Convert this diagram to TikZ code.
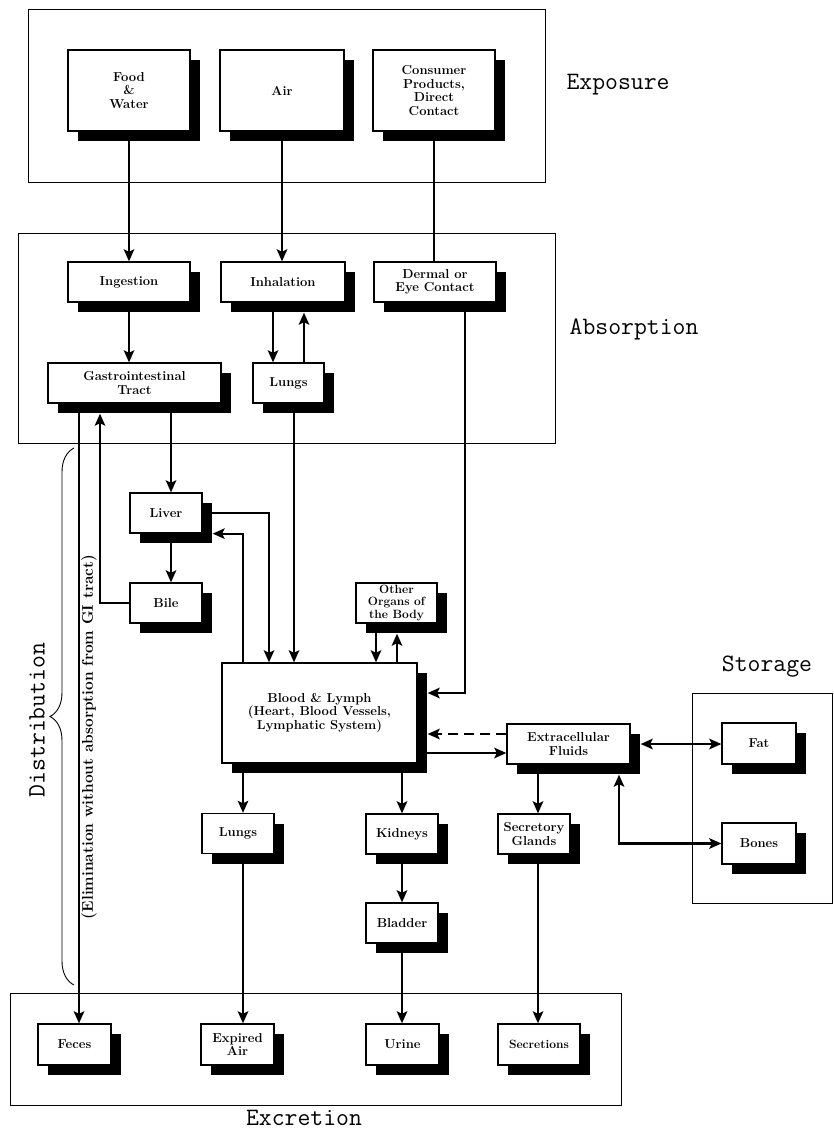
\documentclass[tikz,border=0pt]{standalone}
\usepackage{fontspec}
\usetikzlibrary{arrows.meta,shadows,decorations.pathreplacing,calc}
\begin{document}
\begin{tikzpicture}[x=1pt,y=-1pt]
\tikzset{
  box/.style={draw, line width=1.3pt, fill=white, align=center, inner sep=1pt,
    font=\bfseries\fontsize{13}{13.5}\selectfont,
    drop shadow={shadow xshift=10pt, shadow yshift=-10pt, opacity=1, fill=black}},
  grp/.style={draw, line width=1pt},
  ln/.style={line width=2.1pt},
  arr/.style={line width=2.1pt, -{Stealth[length=12pt,width=10.5pt,inset=2.5pt]}},
  darr/.style={line width=2.1pt, {Stealth[length=12pt,width=10.5pt,inset=2.5pt]}-{Stealth[length=12pt,width=10.5pt,inset=2.5pt]}},
  arrs/.style={arr, shorten >=10pt},
  lbl/.style={font=\ttfamily\fontsize{25}{27}\selectfont, inner sep=0pt},
}
\useasboundingbox[fill=white] (0,0) rectangle (834,1132);

% group frames
\draw[grp] (28,10) rectangle (545,182);
\draw[grp] (18,233) rectangle (555,443);
\draw[grp] (692,693) rectangle (832,903);
\draw[grp] (10,993) rectangle (621,1105);

% group labels
\node[lbl] (lexp) at (618,85) {Exposure};
\node[lbl] (labs) at (634,329) {Absorption};
\node[lbl] (lsto) at (767,667) {Storage};
\node[lbl, anchor=base] (lexc) at (304,1125) {Excretion};
\node[lbl, rotate=90] (ldist) at (37,720) {Distribution};
\draw[line width=0.9pt, decorate, decoration={brace, amplitude=24pt}] (74,985) -- (74,448);
\node[rotate=90, font=\bfseries\fontsize{15.5}{16}\selectfont, inner sep=0pt] (elim) at (89,737) {(Elimination without absorption from GI tract)};

% exposure
\node[box, minimum width=122pt, minimum height=81pt] (food) at (129,90.5) {Food\\\&\\Water};
\node[box, minimum width=124pt, minimum height=81pt] (air) at (282,90.5) {Air};
\node[box, minimum width=122pt, minimum height=81pt] (cons) at (434,90.5) {Consumer\\Products,\\Direct\\Contact};

% absorption
\node[box, minimum width=122pt, minimum height=40pt] (ing) at (129,282) {Ingestion};
\node[box, minimum width=124pt, minimum height=40pt] (inh) at (283,282) {Inhalation};
\node[box, minimum width=122pt, minimum height=40pt] (derm) at (435,282) {Dermal or\\Eye Contact};
\node[box, minimum width=173pt, minimum height=40pt] (gi) at (134.5,383) {Gastrointestinal\\Tract};
\node[box, minimum width=71pt, minimum height=40pt] (lung1) at (288.5,383) {Lungs};

% distribution
\node[box, minimum width=72pt, minimum height=40pt] (liver) at (166,513) {Liver};
\node[box, minimum width=72pt, minimum height=40pt] (bile) at (166,603) {Bile};
\node[box, minimum width=81pt, minimum height=40pt, font=\bfseries\fontsize{12}{12.5}\selectfont] (other) at (396.5,603) {Other\\Organs of\\the Body};
\node[box, minimum width=195pt, minimum height=100pt] (blood) at (319.5,713) {Blood \& Lymph\\(Heart, Blood Vessels,\\Lymphatic System)};
\node[box, minimum width=123pt, minimum height=40pt] (extra) at (568.5,744) {Extracellular\\Fluids};
\node[box, minimum width=72pt, minimum height=40pt] (lung2) at (238,833.5) {Lungs};
\node[box, minimum width=72pt, minimum height=40pt] (kid) at (402,834) {Kidneys};
\node[box, minimum width=72pt, minimum height=40pt] (sec) at (534,834) {Secretory\\Glands};
\node[box, minimum width=72pt, minimum height=40pt] (blad) at (402,923) {Bladder};

% storage
\node[box, minimum width=74pt, minimum height=41pt] (fat) at (759,743.5) {Fat};
\node[box, minimum width=74pt, minimum height=41pt] (bones) at (759,843.5) {Bones};

% excretion
\node[box, minimum width=73pt, minimum height=41pt] (feces) at (74.5,1044.5) {Feces};
\node[box, minimum width=73pt, minimum height=41pt] (exp) at (237.5,1044.5) {Expired\\Air};
\node[box, minimum width=73pt, minimum height=41pt] (urine) at (402.5,1044.5) {Urine};
\node[box, minimum width=82pt, minimum height=41pt, font=\bfseries\fontsize{12}{13}\selectfont] (secr) at (539,1044.5) {Secretions};

% connectors: exposure -> absorption
\draw[arr] (food.south) -- (food.south |- ing.north);
\draw[arr] (air.south) -- (air.south |- inh.north);
\draw[ln] (cons.south) -- (cons.south |- derm.north);
\draw[arr] (ing.south) -- (ing.south |- gi.north);
\draw[arr] ([xshift=-10pt]inh.south) -- ([xshift=-10pt]inh.south |- lung1.north);
\draw[arrs] ([xshift=21pt]inh.south |- lung1.north) -- ([xshift=21pt]inh.south);

% GI, liver, bile
\draw[arr] ([xshift=-55.5pt]gi.south) -- ([xshift=-55.5pt]gi.south |- feces.north);
\draw[arrs] (bile.west) -| ([xshift=-34.5pt]gi.south);
\draw[arr] ([xshift=5pt]liver.north |- gi.south) -- ([xshift=5pt]liver.north);
\draw[arr] ([xshift=5pt]liver.south) -- ([xshift=5pt]bile.north);
\draw[arr] (liver.east) -| ([xshift=-50.5pt]blood.north);
\draw[arrs] ([xshift=-76.5pt]blood.north) |- (liver.south east);

% lungs, dermal into blood
\draw[arr] ([xshift=5.5pt]lung1.south) -- ([xshift=5.5pt]lung1.south |- blood.north);
\draw[arrs] ([xshift=30pt]derm.south) |- ([yshift=20pt]blood.east);

% other organs
\draw[arr] ([xshift=-20.5pt]other.south) -- ([xshift=-20.5pt]other.south |- blood.north);
\draw[arrs] ([xshift=0.5pt]other.south |- blood.north) -- ([xshift=0.5pt]other.south);

% blood <-> extracellular
\draw[arrs, dash pattern=on 10pt off 6pt] ([yshift=10pt]extra.west) -- ([yshift=10pt]extra.west -| blood.east);
\draw[arr] ([yshift=-9pt]extra.west -| blood.east) -- ([yshift=-9pt]extra.west);

% storage
\draw[darr, shorten <=10pt] (extra.east) -- (extra.east -| fat.west);
\draw[darr, shorten <=10pt] ([xshift=50.5pt]extra.south) |- (bones.west);

% blood -> organs of excretion
\draw[arr] ([xshift=-76.5pt]blood.south) -- ([xshift=-76.5pt]blood.south |- lung2.north);
\draw[arr] (kid.north |- blood.south) -- (kid.north);
\draw[arr] (kid.south) -- (blad.north);
\draw[arr] ([xshift=4pt]sec.north |- extra.south) -- ([xshift=4pt]sec.north);

% to excretion
\draw[arr] ([xshift=5pt]lung2.south) -- ([xshift=5pt]lung2.south |- exp.north);
\draw[arr] (blad.south) -- (blad.south |- urine.north);
\draw[arr] ([xshift=4pt]sec.south) -- ([xshift=4pt]sec.south |- secr.north);
\end{tikzpicture}
\end{document}
